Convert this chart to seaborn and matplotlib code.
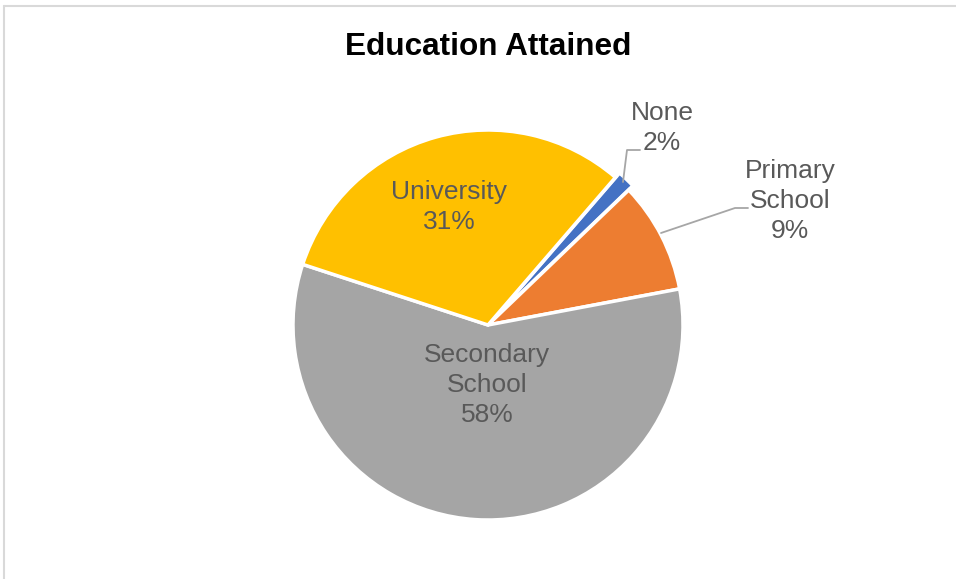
import matplotlib
matplotlib.use("Agg")
import matplotlib.pyplot as plt
import seaborn as sns

categories = ["None", "Primary School", "Secondary School", "University"]
values = [1.5, 9.2, 58.0, 31.3]
pct_labels = ["2%", "9%", "58%", "31%"]
label_text = ["None", "Primary\nSchool", "Secondary\nSchool", "University"]
colors = ["#4472C4", "#ED7D31", "#A5A5A5", "#FFC000"]

sns.set_theme(style="white")
plt.rcParams['font.family'] = ['Liberation Sans', 'DejaVu Sans']

W, H = 956, 579
fig = plt.figure(figsize=(W / 100, H / 100), dpi=100)
ax = fig.add_axes([0, 0, 1, 1])
ax.set_xlim(0, W)
ax.set_ylim(0, H)
ax.axis("off")

def py(y):
    return H - y

palette = sns.color_palette(colors)
cx, cy, R = 488, py(325), 195
ax.pie(values, colors=palette, startangle=49.2, counterclock=False,
       center=(cx, cy), radius=R, frame=True,
       explode=[6, 0, 0, 0],
       wedgeprops=dict(edgecolor="white", linewidth=2.5))
ax.set_xlim(0, W)
ax.set_ylim(0, H)
ax.set_aspect("equal")
ax.axis("off")

# chart border (clipped by figure edges at right/bottom)
fig.add_artist(plt.Line2D([4, W + 10], [py(6), py(6)], color="#D9D9D9", lw=1.5,
                          transform=ax.transData))
fig.add_artist(plt.Line2D([4, 4], [py(6), -10], color="#D9D9D9", lw=1.5,
                          transform=ax.transData))

ax.text(488, py(47), "Education Attained", ha="center", va="center",
        fontsize=22.7, fontweight="bold", color="black")

label_pos = [(662, 128), (790, 201), (487, 385), (449, 207)]
txt_color = "#595959"
for name, pct, (x, y) in zip(label_text, pct_labels, label_pos):
    ax.text(x, py(y), f"{name}\n{pct}", ha="center", va="center",
            fontsize=19, color=txt_color, linespacing=1.3)

# leader lines
ax.plot([623, 627, 640], [py(182), py(150), py(150)], color="#A6A6A6", lw=1.3)
ax.plot([661, 735, 748], [py(233), py(208), py(208)], color="#A6A6A6", lw=1.3)

fig.savefig("out.png", dpi=100)
